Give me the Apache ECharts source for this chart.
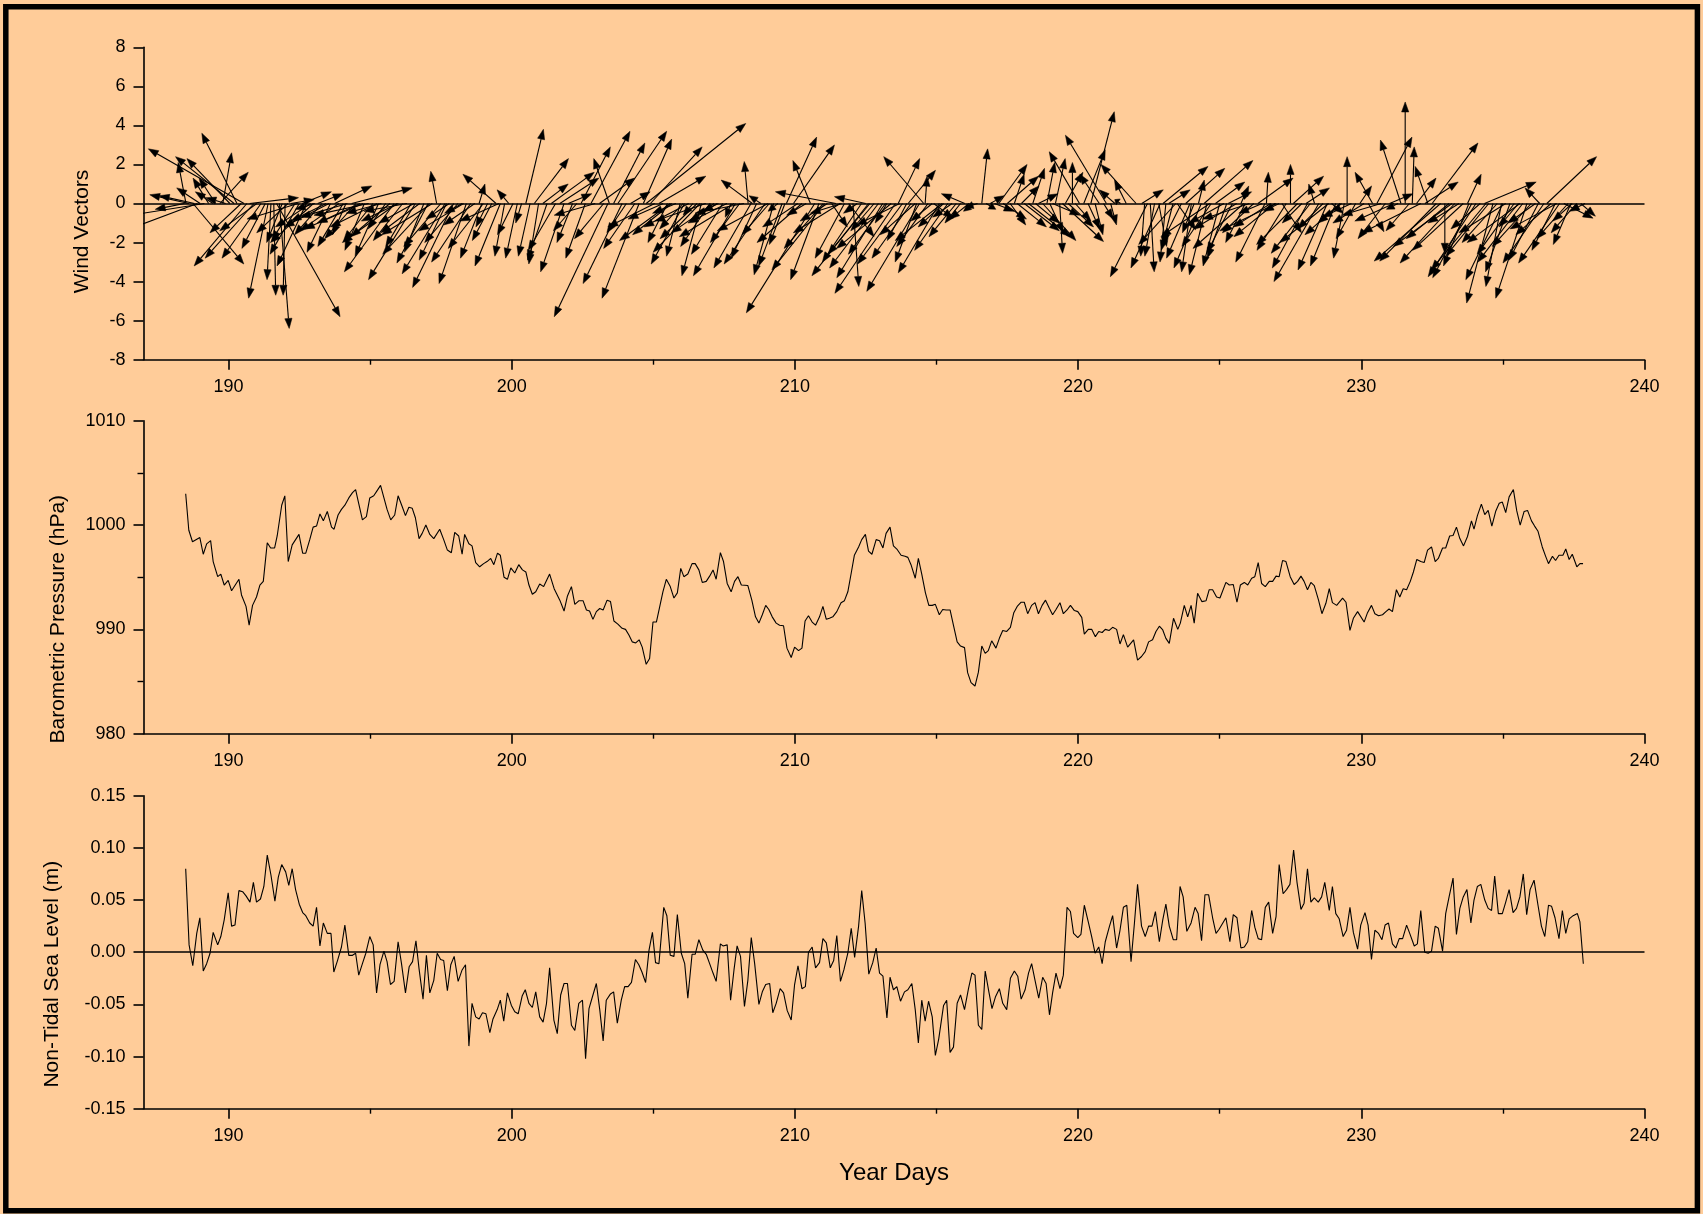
<!DOCTYPE html>
<html>
<head>
<meta charset="utf-8">
<title>Wind, Barometric Pressure and Non-Tidal Sea Level</title>
<script src="https://cdn.jsdelivr.net/npm/echarts@6/dist/echarts.min.js"></script>
<style>
  html, body { margin: 0; padding: 0; background: #ffffff; }
  #chart { width: 1703px; height: 1214px; }
</style>
</head>
<body>
<div id="chart"></div>
<script>
// ---- Tick values for the shared time axis (year days) ----
const dayTicks = [190, 200, 210, 220, 230, 240];
const dayMinorTicks = [195, 205, 215, 225, 235];

// ---- Wind observations: [year day, u (m/s), v (m/s)] ----
const windObs = [
  [188.45,-1.5,-0.3],[188.5,-0.4,2.1],[188.6,-2.0,0.45],[188.75,2.6,-3.1],[188.8,-1.8,0.4],
  [188.9,-4.0,-1.5],[189.0,-1.2,0.8],[189.15,-3.8,-0.6],[189.3,-0.8,1.3],[189.45,-0.9,0.6],
  [189.55,-0.85,1.3],[189.7,1.45,1.6],[189.8,0.45,2.6],[189.9,-1.0,0.3],[190.05,-2.2,2.3],
  [190.2,-3.0,2.4],[190.3,-1.8,3.6],[190.45,-1.6,-1.5],[190.55,-4.9,2.8],[190.65,-2.7,-3.2],
  [190.75,2.5,0.3],[190.9,-2.5,-2.8],[191.0,-1.9,-1.4],[191.15,-2.0,-2.8],[191.3,-1.2,-2.3],
  [191.4,-1.0,-4.85],[191.5,-0.2,-3.9],[191.6,0.1,-4.7],[191.7,3.25,-5.8],[191.8,0.5,-6.4],
  [191.9,-0.8,-2.0],[192.0,-0.1,-4.7],[192.1,-1.6,-1.5],[192.2,1.2,0.2],[192.35,-1.2,-1.9],
  [192.45,-2.6,-0.8],[192.5,-1.5,-2.6],[192.6,1.5,0.6],[192.75,-1.5,-3.2],[192.9,-1.8,-1.2],
  [193.0,-2.2,-2.0],[193.05,-1.0,-0.3],[193.15,1.3,0.5],[193.3,-1.4,-1.6],[193.45,-1.8,-0.9],
  [193.55,-2.3,-1.2],[193.6,-1.2,-2.5],[193.75,1.9,0.9],[193.9,-2.0,-1.4],[194.05,-1.3,-2.2],
  [194.15,-0.7,-1.6],[194.2,-2.4,-0.7],[194.35,3.1,0.8],[194.5,-1.6,-1.8],[194.65,-2.2,-1.0],
  [194.75,-3.0,-1.3],[194.8,-1.0,-2.4],[194.95,-2.8,-0.6],[195.1,-1.5,-1.9],[195.25,-2.4,-1.2],
  [195.3,-1.2,-2.7],[195.4,-1.8,-0.5],[195.55,-0.9,-1.3],[195.7,-2.0,-1.7],[195.85,-2.55,-3.5],
  [195.95,-2.8,-2.0],[196.0,-1.9,-0.9],[196.15,-1.5,-1.9],[196.3,-2.2,-0.4],[196.45,-1.3,-2.2],
  [196.55,-1.8,-1.0],[196.6,-2.4,-3.9],[196.75,-2.0,-1.5],[196.9,-1.0,-2.5],[197.05,-1.6,-3.05],
  [197.1,-2.4,-2.6],[197.2,-2.6,-1.6],[197.35,-0.3,1.65],[197.5,-1.9,-2.2],[197.65,-2.2,-3.6],
  [197.7,-1.4,-2.9],[197.8,-1.2,-0.8],[197.95,-2.1,-4.3],[198.1,-1.7,-2.0],[198.25,-0.9,-0.5],
  [198.3,-2.3,-1.4],[198.4,-1.4,-4.1],[198.55,-2.0,-3.0],[198.7,-1.6,-1.1],[198.85,0.3,1.0],
  [198.95,-1.1,-2.8],[199.0,-1.8,-2.3],[199.15,-0.6,-1.2],[199.3,-1.0,-1.9],[199.45,-1.7,1.5],
  [199.55,-2.0,-0.9],[199.6,-1.3,-3.2],[199.75,-0.5,-2.7],[199.9,-0.6,0.7],[200.05,-0.8,-1.6],
  [200.2,-0.6,-2.8],[200.35,-0.3,-1.0],[200.5,0.9,3.8],[200.65,-0.6,-2.7],[200.8,1.75,2.3],
  [200.95,-0.5,-3.1],[201.1,1.3,1.0],[201.25,-1.0,-2.9],[201.4,2.2,1.6],[201.55,-1.4,-2.4],
  [201.7,2.0,1.3],[201.85,-1.2,-3.5],[202.0,1.2,0.5],[202.15,-0.8,-2.0],[202.3,-1.2,-1.4],
  [202.45,1.5,2.9],[202.6,-1.0,-2.8],[202.8,2.0,3.7],[202.95,-2.1,-0.6],[203.1,1.8,1.3],
  [203.25,-1.5,-1.8],[203.4,-2.75,-5.8],[203.45,-0.8,2.3],[203.6,1.6,3.1],[203.75,2.5,3.7],
  [203.9,-2.0,-4.1],[204.05,-1.0,-1.5],[204.2,1.0,0.6],[204.35,-1.6,-2.3],[204.5,-1.9,-4.85],
  [204.65,1.45,3.3],[204.75,5.1,4.1],[204.9,2.65,2.9],[205.05,-2.4,-1.2],[205.2,2.4,1.4],
  [205.35,-1.8,-0.8],[205.5,-1.0,-2.0],[205.6,-2.6,-1.9],[205.65,-2.0,-1.6],[205.8,-1.2,-0.5],
  [205.95,-0.7,-2.7],[206.05,-1.2,-1.3],[206.1,-1.7,-3.1],[206.25,-2.3,-1.2],[206.4,-0.5,-0.6],
  [206.55,-1.9,-1.8],[206.65,-2.4,-2.5],[206.7,-1.0,-3.7],[206.85,-2.6,-0.9],[207.0,-1.5,-2.2],
  [207.15,-2.2,-1.5],[207.25,-1.4,-0.9],[207.3,-0.8,-0.4],[207.45,-1.6,-2.6],[207.6,-2.0,-1.0],
  [207.75,-0.3,-0.7],[207.85,-2.8,-1.7],[207.9,-2.15,-3.7],[208.05,-1.5,-2.0],[208.2,-2.5,-0.5],
  [208.35,-0.2,2.15],[208.45,-1.9,-3.3],[208.5,-1.6,1.2],[208.65,-1.3,-2.8],[208.8,-0.6,0.4],
  [208.95,-2.1,-3.1],[209.05,-2.6,-1.4],[209.1,-1.4,-1.6],[209.25,-1.0,-3.65],[209.4,-0.5,-0.4],
  [209.55,-1.2,-3.2],[209.65,-0.8,-2.1],[209.7,1.55,3.4],[209.95,2.1,3.0],[210.1,-1.8,-1.2],
  [210.25,-2.3,-2.0],[210.4,-1.0,-0.6],[210.55,-0.9,2.2],[210.7,-3.5,-5.6],[210.85,-1.45,-3.9],
  [211.0,-2.0,-2.3],[211.05,-2.7,-3.4],[211.15,-1.4,-0.9],[211.3,0.8,-1.2],[211.45,-3.1,0.6],
  [211.6,-2.4,-1.5],[211.65,-1.6,-0.5],[211.75,-1.5,-2.8],[211.9,1.3,-1.7],[212.05,0.3,-4.25],
  [212.2,-0.7,-0.5],[212.35,-2.0,-3.0],[212.5,-1.6,0.35],[212.6,-2.9,-3.7],[212.65,-2.15,-2.6],
  [212.8,-1.2,-1.4],[212.95,-2.5,-3.3],[213.1,-2.35,-3.8],[213.2,-1.9,-2.6],[213.25,-0.6,-1.0],
  [213.4,-2.8,-2.3],[213.55,-3.1,-4.6],[213.65,1.1,2.3],[213.7,-2.2,-1.1],[213.8,-2.3,-3.1],
  [213.95,-1.0,-1.9],[214.0,1.4,1.7],[214.1,-2.0,-2.8],[214.25,-1.8,-1.6],[214.3,-1.1,-3.0],
  [214.4,-2.7,-4.5],[214.55,-2.05,2.4],[214.6,0.1,1.4],[214.7,-1.6,-2.2],[214.85,-1.1,-0.9],
  [214.9,1.0,-0.75],[215.1,-2.1,-3.55],[215.2,-2.4,-1.9],[215.25,-1.3,-1.2],[215.4,-1.7,-2.4],
  [215.55,-1.0,-0.7],[215.7,-1.4,-1.7],[215.85,-0.8,-1.0],[216.0,-1.2,0.5],[216.15,-1.0,-0.8],
  [216.3,-0.5,-0.4],[216.45,-0.6,-0.2],[216.6,0.3,2.8],[216.75,0.5,-0.3],[216.9,0.7,0.4],
  [217.05,1.0,-0.4],[217.2,1.45,2.0],[217.35,1.2,-0.8],[217.5,1.6,1.4],[217.6,0.8,-1.1],
  [217.75,0.5,1.5],[217.85,1.5,-1.2],[218.0,0.9,0.9],[218.1,1.8,-1.4],[218.25,2.15,-1.7],
  [218.4,0.6,1.8],[218.5,1.2,-1.0],[218.6,1.0,0.5],[218.75,1.7,-1.9],[218.9,0.4,2.1],
  [219.0,0.7,-1.5],[219.1,1.4,-0.6],[219.2,0.5,2.3],[219.35,0.15,-2.55],[219.45,2.1,-1.95],
  [219.55,0.9,1.6],[219.65,1.3,-1.2],[219.8,0.0,2.1],[219.9,0.8,-0.9],[220.05,-1.55,2.65],
  [220.2,1.1,2.75],[220.35,0.6,-1.3],[220.45,1.2,4.7],[220.6,0.4,-1.6],[220.75,-1.0,1.5],
  [220.9,0.5,-0.8],[221.0,-2.1,3.5],[221.15,0.3,-1.1],[221.3,-0.8,0.7],[221.5,-0.3,0.2],
  [221.7,-0.6,1.2],[222.05,-1.8,2.0],[222.25,1.1,0.7],[222.35,-0.2,-2.7],[222.45,-1.9,-3.75],
  [222.55,0.2,-3.5],[222.7,-0.5,-2.7],[222.85,0.4,-2.2],[222.9,-1.5,-3.3],[223.0,2.3,1.9],
  [223.1,-0.3,-3.0],[223.2,1.1,0.7],[223.35,-0.6,-2.4],[223.45,-1.9,-2.1],[223.5,0.95,-1.35],
  [223.65,-1.0,-2.0],[223.8,2.0,1.8],[223.95,-1.2,-2.8],[224.0,-0.5,-3.5],[224.1,-0.6,-1.5],
  [224.25,0.3,1.2],[224.35,-1.4,-3.3],[224.45,2.5,2.2],[224.55,-0.9,-3.65],[224.65,-2.5,-1.7],
  [224.7,-1.5,-2.2],[224.85,1.5,1.1],[225.0,-0.85,-3.2],[225.15,-1.8,-1.0],[225.25,-1.0,-2.8],
  [225.3,1.2,0.6],[225.45,-1.3,-2.5],[225.6,-2.2,-1.3],[225.75,0.4,0.9],[225.85,-2.6,-2.3],
  [225.9,-1.0,-2.0],[226.05,-2.4,-0.8],[226.2,-1.6,-1.5],[226.35,1.8,1.3],[226.5,-1.2,-0.5],
  [226.6,-1.5,-3.0],[226.65,0.1,1.6],[226.8,-1.9,-1.2],[226.95,-2.1,-1.7],[227.0,-2.9,-1.4],
  [227.1,-0.8,-0.4],[227.2,1.0,-1.5],[227.35,-1.5,-2.4],[227.5,0.0,2.0],[227.6,1.55,1.4],
  [227.75,-2.1,-2.1],[227.9,-1.0,-1.0],[228.05,1.2,0.8],[228.1,-1.8,-3.3],[228.2,-2.0,-2.55],
  [228.35,-0.3,1.0],[228.5,-2.3,-4.0],[228.65,-1.3,-1.3],[228.8,-1.5,-3.4],[228.85,-2.5,-2.0],
  [228.95,0.6,-0.5],[229.1,-1.3,-3.2],[229.25,-1.8,-1.6],[229.3,-1.2,-1.0],[229.4,-0.55,-2.8],
  [229.5,0.0,2.4],[229.65,-1.5,-0.7],[229.8,-1.0,-1.8],[229.95,0.6,0.9],[230.1,-1.6,-1.0],
  [230.25,0.8,-1.45],[230.4,-0.9,1.6],[230.55,1.8,3.4],[230.7,-2.0,-0.6],[230.85,-1.4,-1.8],
  [231.0,1.2,0.5],[231.15,-2.0,-0.9],[231.3,-0.6,-0.3],[231.4,-1.05,3.25],[231.55,0.0,5.2],
  [231.7,-1.2,-1.4],[231.8,0.1,2.9],[231.95,1.0,1.3],[232.1,-3.0,-1.5],[232.25,1.7,1.1],
  [232.35,-0.65,1.9],[232.5,2.35,3.1],[232.65,-2.9,-2.95],[232.8,-3.4,-2.95],[232.95,0.0,-2.55],
  [233.1,-2.2,-1.8],[233.2,-3.0,-2.2],[233.3,-2.8,-3.05],[233.45,-1.6,-1.0],[233.6,-2.6,-2.4],
  [233.75,0.7,1.5],[233.8,-1.3,-3.2],[233.9,-2.0,-3.8],[234.05,-2.45,-3.75],[234.2,-1.5,-1.3],
  [234.35,2.65,1.1],[234.4,-2.8,-3.4],[234.5,-2.2,-2.7],[234.65,-1.35,-5.1],[234.8,-1.8,-2.0],
  [234.95,-0.8,-4.25],[235.0,-1.9,-3.9],[235.1,-2.4,-1.5],[235.25,-1.25,-3.5],[235.4,-1.9,-2.6],
  [235.55,-1.0,-1.2],[235.6,-2.7,-2.0],[235.7,-2.3,-3.0],[235.85,-1.6,-4.85],[236.0,-2.0,-2.2],
  [236.15,-1.4,-1.0],[236.25,-1.5,-2.9],[236.3,-0.75,0.8],[236.45,-2.1,-3.05],[236.55,2.55,2.4],
  [236.7,-1.8,-1.6],[236.85,-1.2,-2.4],[236.9,-2.4,-1.3],[237.0,-2.1,-3.05],[237.15,1.5,-0.75],
  [237.3,-1.6,-1.8],[237.4,-0.9,-2.1],[237.45,-1.0,-0.9],[237.6,-1.3,-1.5],[237.75,0.75,-0.65],
  [237.9,-0.8,-0.4]
];

// ---- Barometric pressure: [year day, hPa] ----
const pressure = [
  [188.49,1003.0],[188.6,999.5],[188.73,998.4],[188.99,998.8],[189.11,997.2],[189.23,998.2],
  [189.37,998.5],[189.46,996.5],[189.62,995.05],[189.73,995.3],[189.85,994.25],[189.99,994.7],
  [190.11,993.7],[190.37,994.8],[190.46,993.3],[190.62,992.2],[190.73,990.4],[190.85,992.3],
  [190.99,993.1],[191.11,994.25],[191.23,994.6],[191.37,998.3],[191.49,997.8],[191.63,997.8],
  [191.72,998.95],[191.88,1001.9],[191.99,1002.8],[192.11,996.5],[192.25,998.1],[192.49,999.1],
  [192.62,997.3],[192.73,997.3],[192.87,998.6],[192.99,999.8],[193.11,999.9],[193.23,1001.06],
  [193.35,1000.4],[193.49,1001.3],[193.64,999.8],[193.73,999.6],[193.87,1000.96],[193.99,1001.5],
  [194.11,1001.9],[194.25,1002.6],[194.38,1003.1],[194.49,1003.4],[194.58,1002.3],[194.73,1000.5],
  [194.87,1000.8],[194.99,1002.6],[195.13,1002.8],[195.25,1003.3],[195.37,1003.8],[195.49,1002.6],
  [195.6,1001.5],[195.73,1000.5],[195.87,1000.96],[195.99,1002.8],[196.13,1001.8],[196.25,1000.9],
  [196.37,1001.7],[196.49,1001.6],[196.6,1000.7],[196.73,998.7],[196.84,999.2],[196.97,1000.0],
  [197.11,999.1],[197.25,998.7],[197.46,999.6],[197.6,998.6],[197.73,997.6],[197.87,997.35],
  [197.99,999.3],[198.13,998.95],[198.25,997.2],[198.34,999.1],[198.49,998.2],[198.6,998.0],
  [198.73,996.4],[198.87,996.0],[199.01,996.3],[199.13,996.5],[199.26,996.8],[199.37,996.2],
  [199.5,997.3],[199.6,997.1],[199.73,995.0],[199.85,994.8],[199.97,995.9],[200.11,995.4],
  [200.25,996.2],[200.38,995.7],[200.5,995.5],[200.61,994.25],[200.73,993.36],[200.85,993.6],
  [200.99,994.35],[201.13,994.1],[201.34,995.3],[201.5,993.9],[201.7,992.8],[201.85,991.76],
  [201.97,993.2],[202.11,994.1],[202.23,992.4],[202.38,992.75],[202.52,992.75],[202.64,991.86],
  [202.75,991.76],[202.87,990.96],[202.99,991.7],[203.11,992.0],[203.23,991.86],[203.37,992.8],
  [203.49,992.66],[203.61,990.8],[203.75,990.5],[203.9,990.1],[204.02,990.0],[204.14,989.46],
  [204.26,988.8],[204.38,988.7],[204.5,989.0],[204.61,988.3],[204.75,986.65],[204.87,987.2],
  [204.99,990.7],[205.11,990.7],[205.23,992.2],[205.34,993.6],[205.46,994.8],[205.6,994.1],
  [205.73,993.0],[205.85,993.5],[205.97,995.85],[206.08,995.05],[206.22,995.3],[206.37,996.3],
  [206.48,996.3],[206.61,995.7],[206.73,994.5],[206.87,994.6],[206.99,995.1],[207.11,995.7],
  [207.22,994.8],[207.37,997.35],[207.48,996.5],[207.61,994.4],[207.75,993.6],[207.87,994.6],
  [207.99,995.05],[208.11,994.25],[208.34,994.2],[208.48,992.8],[208.61,991.2],[208.73,990.6],
  [208.85,991.4],[208.97,992.3],[209.08,991.9],[209.2,991.2],[209.34,990.6],[209.46,990.4],
  [209.6,990.35],[209.72,988.2],[209.87,987.3],[209.99,988.3],[210.13,987.96],[210.25,988.2],
  [210.36,990.8],[210.48,991.3],[210.61,990.7],[210.73,990.4],[210.87,991.2],[210.99,992.2],
  [211.11,990.96],[211.22,991.06],[211.34,991.2],[211.48,991.7],[211.63,992.56],[211.75,992.75],
  [211.87,993.6],[211.99,995.4],[212.1,997.1],[212.25,997.9],[212.36,998.6],[212.49,999.1],
  [212.6,997.5],[212.72,997.2],[212.87,998.6],[212.99,998.5],[213.11,997.8],[213.22,999.2],
  [213.36,999.8],[213.48,998.0],[213.6,997.7],[213.75,997.1],[213.89,997.0],[213.99,996.9],
  [214.1,996.2],[214.25,994.9],[214.36,996.8],[214.48,995.3],[214.61,993.5],[214.73,992.3],
  [214.85,992.3],[214.96,992.4],[215.1,991.4],[215.22,991.9],[215.34,991.86],[215.48,991.86],
  [215.61,990.26],[215.73,988.8],[215.85,988.4],[215.99,988.25],[216.1,985.85],[216.22,984.9],
  [216.36,984.57],[216.48,985.9],[216.6,988.4],[216.72,987.7],[216.83,987.96],[216.95,988.9],
  [217.1,988.2],[217.22,989.14],[217.34,989.9],[217.48,989.8],[217.61,990.2],[217.73,991.6],
  [217.85,992.2],[217.99,992.6],[218.1,992.6],[218.22,991.5],[218.36,992.3],[218.48,992.56],
  [218.6,991.5],[218.73,992.3],[218.85,992.8],[218.99,992.0],[219.1,991.4],[219.22,991.9],
  [219.36,992.56],[219.48,991.5],[219.61,991.86],[219.73,992.3],[219.87,991.8],[219.99,991.7],
  [220.13,991.15],[220.22,989.55],[220.36,990.0],[220.48,990.0],[220.61,989.3],[220.73,989.8],
  [220.85,989.7],[220.96,990.0],[221.1,989.9],[221.22,990.2],[221.36,990.0],[221.48,988.6],
  [221.6,989.5],[221.75,988.3],[221.96,989.0],[222.1,987.06],[222.24,987.4],[222.37,987.86],
  [222.49,988.8],[222.63,989.0],[222.75,989.8],[222.87,990.3],[222.99,989.94],[223.1,989.14],
  [223.22,988.66],[223.37,991.06],[223.52,990.0],[223.61,990.6],[223.75,992.3],[223.87,991.2],
  [223.99,992.3],[224.1,990.6],[224.22,993.45],[224.37,992.66],[224.52,992.75],[224.63,993.8],
  [224.75,993.8],[224.89,993.1],[225.01,993.0],[225.22,994.5],[225.34,994.25],[225.48,994.3],
  [225.61,992.6],[225.73,994.25],[225.87,994.5],[225.99,994.25],[226.13,994.9],[226.24,995.05],
  [226.36,996.4],[226.48,994.4],[226.61,994.1],[226.75,994.6],[226.87,994.6],[226.99,995.1],
  [227.1,995.05],[227.22,996.6],[227.34,996.5],[227.49,995.05],[227.63,994.3],[227.75,994.6],
  [227.87,995.1],[227.98,994.6],[228.1,993.8],[228.22,994.5],[228.34,994.2],[228.49,992.8],
  [228.61,991.5],[228.75,992.5],[228.87,993.9],[228.98,992.56],[229.13,992.3],[229.34,993.0],
  [229.46,992.6],[229.6,989.9],[229.72,991.06],[229.87,991.7],[230.1,990.7],[230.22,991.6],
  [230.36,992.3],[230.48,991.5],[230.61,991.3],[230.75,991.4],[230.87,991.7],[230.98,991.95],
  [231.1,991.7],[231.24,993.8],[231.36,993.1],[231.48,993.9],[231.6,993.8],[231.73,994.6],
  [231.84,995.5],[231.96,996.7],[232.1,996.5],[232.22,996.4],[232.34,997.6],[232.48,997.9],
  [232.61,996.5],[232.72,996.8],[232.87,997.8],[232.98,997.8],[233.12,998.95],[233.24,999.0],
  [233.36,999.8],[233.48,998.7],[233.61,998.0],[233.75,998.9],[233.89,1000.4],[233.98,999.6],
  [234.1,1000.9],[234.24,1002.0],[234.36,1001.0],[234.48,1001.4],[234.61,999.9],[234.75,1001.35],
  [234.87,1002.08],[234.98,1002.2],[235.1,1001.2],[235.22,1002.7],[235.37,1003.4],[235.49,1001.35],
  [235.61,1000.0],[235.75,1001.3],[235.87,1001.4],[236.01,1000.4],[236.12,999.9],[236.24,999.4],
  [236.39,997.9],[236.51,997.0],[236.61,996.3],[236.75,997.0],[236.86,996.6],[236.98,997.1],
  [237.12,997.1],[237.22,997.7],[237.34,996.7],[237.45,997.2],[237.61,996.0],[237.72,996.3],
  [237.83,996.3]
];

// ---- Non-tidal sea level residual: [year day, m] ----
const seaLevel = [
  [188.49,0.080],[188.61,0.007],[188.74,-0.013],[188.88,0.018],[188.99,0.033],[189.11,-0.018],
  [189.23,-0.011],[189.35,-0.001],[189.46,0.019],[189.62,0.007],[189.73,0.015],[189.85,0.031],
  [189.99,0.057],[190.11,0.025],[190.23,0.026],[190.37,0.059],[190.5,0.058],[190.62,0.054],
  [190.76,0.048],[190.88,0.067],[190.99,0.048],[191.13,0.051],[191.25,0.063],[191.37,0.093],
  [191.5,0.074],[191.64,0.049],[191.76,0.072],[191.88,0.084],[192.02,0.077],[192.13,0.064],
  [192.25,0.080],[192.37,0.060],[192.5,0.046],[192.62,0.038],[192.73,0.035],[192.87,0.028],
  [192.99,0.025],[193.11,0.043],[193.23,0.006],[193.35,0.028],[193.49,0.018],[193.62,0.018],
  [193.72,-0.019],[193.85,-0.008],[193.99,0.005],[194.11,0.026],[194.25,-0.003],[194.38,-0.003],
  [194.49,-0.001],[194.6,-0.022],[194.73,-0.011],[194.85,-0.001],[194.99,0.015],[195.11,0.007],
  [195.23,-0.039],[195.35,-0.012],[195.49,0.001],[195.6,-0.009],[195.72,-0.031],[195.85,-0.028],
  [195.99,0.010],[196.11,-0.011],[196.25,-0.039],[196.38,-0.014],[196.5,-0.009],[196.62,0.011],
  [196.73,-0.016],[196.87,-0.045],[196.99,-0.003],[197.11,-0.039],[197.25,-0.027],[197.37,-0.001],
  [197.49,-0.007],[197.6,-0.008],[197.73,-0.037],[197.85,-0.012],[197.97,-0.004],[198.11,-0.028],
  [198.25,-0.017],[198.37,-0.012],[198.49,-0.090],[198.6,-0.049],[198.73,-0.062],[198.85,-0.064],
  [198.97,-0.058],[199.09,-0.059],[199.23,-0.077],[199.34,-0.064],[199.49,-0.055],[199.6,-0.046],
  [199.72,-0.066],[199.85,-0.039],[199.99,-0.051],[200.11,-0.057],[200.23,-0.059],[200.37,-0.042],
  [200.48,-0.036],[200.61,-0.049],[200.73,-0.053],[200.85,-0.038],[200.99,-0.062],[201.11,-0.067],
  [201.23,-0.049],[201.34,-0.015],[201.49,-0.065],[201.61,-0.078],[201.73,-0.041],[201.85,-0.030],
  [201.97,-0.030],[202.11,-0.070],[202.23,-0.075],[202.37,-0.049],[202.5,-0.046],[202.61,-0.102],
  [202.73,-0.054],[202.87,-0.041],[202.99,-0.030],[203.11,-0.055],[203.23,-0.085],[203.34,-0.046],
  [203.49,-0.040],[203.6,-0.038],[203.73,-0.068],[203.87,-0.046],[203.99,-0.033],[204.11,-0.033],
  [204.23,-0.029],[204.37,-0.007],[204.49,-0.012],[204.6,-0.019],[204.73,-0.029],[204.85,0.002],
  [204.97,0.019],[205.08,-0.010],[205.2,-0.011],[205.37,0.043],[205.48,0.035],[205.6,-0.003],
  [205.73,-0.004],[205.85,0.036],[205.99,-0.001],[206.11,-0.011],[206.22,-0.044],[206.37,-0.002],
  [206.48,-0.002],[206.61,0.012],[206.75,0.002],[206.87,-0.002],[206.99,-0.011],[207.11,-0.020],
  [207.22,-0.028],[207.37,0.008],[207.46,0.006],[207.61,0.007],[207.73,-0.046],[207.85,-0.017],
  [207.96,0.006],[208.08,-0.004],[208.22,-0.052],[208.34,-0.027],[208.46,0.014],[208.58,-0.011],
  [208.73,-0.050],[208.85,-0.038],[208.97,-0.031],[209.11,-0.030],[209.22,-0.058],[209.34,-0.049],
  [209.48,-0.035],[209.6,-0.039],[209.73,-0.056],[209.87,-0.065],[209.99,-0.031],[210.11,-0.013],
  [210.25,-0.035],[210.37,-0.033],[210.48,0.000],[210.61,0.005],[210.73,-0.015],[210.87,-0.010],
  [210.99,0.013],[211.11,0.009],[211.25,-0.015],[211.37,-0.008],[211.48,0.016],[211.61,-0.028],
  [211.73,-0.017],[211.87,-0.001],[211.99,0.023],[212.11,-0.005],[212.25,0.025],[212.36,0.059],
  [212.48,0.028],[212.61,-0.021],[212.75,-0.010],[212.87,0.004],[212.99,-0.020],[213.11,-0.023],
  [213.25,-0.063],[213.36,-0.024],[213.48,-0.036],[213.6,-0.033],[213.73,-0.047],[213.87,-0.038],
  [213.99,-0.036],[214.13,-0.030],[214.25,-0.055],[214.36,-0.087],[214.48,-0.046],[214.6,-0.066],
  [214.72,-0.047],[214.85,-0.062],[214.96,-0.099],[215.08,-0.083],[215.25,-0.051],[215.36,-0.046],
  [215.48,-0.096],[215.6,-0.091],[215.73,-0.049],[215.85,-0.041],[215.99,-0.055],[216.13,-0.035],
  [216.25,-0.020],[216.36,-0.022],[216.48,-0.070],[216.6,-0.074],[216.72,-0.018],[216.85,-0.038],
  [216.96,-0.054],[217.08,-0.043],[217.22,-0.035],[217.34,-0.049],[217.48,-0.055],[217.61,-0.025],
  [217.75,-0.018],[217.87,-0.023],[217.99,-0.045],[218.13,-0.036],[218.25,-0.020],[218.36,-0.011],
  [218.48,-0.027],[218.61,-0.044],[218.75,-0.024],[218.87,-0.030],[218.99,-0.060],[219.1,-0.039],
  [219.22,-0.020],[219.36,-0.035],[219.48,-0.022],[219.61,0.043],[219.73,0.039],[219.84,0.018],
  [219.99,0.014],[220.1,0.017],[220.22,0.045],[220.36,0.029],[220.48,0.015],[220.6,-0.001],
  [220.73,0.005],[220.85,-0.011],[220.96,0.010],[221.1,0.024],[221.22,0.035],[221.36,0.004],
  [221.48,0.021],[221.6,0.043],[221.72,0.045],[221.87,-0.009],[221.99,0.028],[222.1,0.065],
  [222.24,0.025],[222.37,0.015],[222.49,0.025],[222.61,0.025],[222.73,0.039],[222.87,0.010],
  [222.99,0.031],[223.1,0.046],[223.22,0.025],[223.36,0.012],[223.48,0.012],[223.6,0.063],
  [223.71,0.053],[223.84,0.020],[223.99,0.028],[224.13,0.043],[224.24,0.037],[224.36,0.011],
  [224.48,0.055],[224.61,0.055],[224.75,0.033],[224.87,0.018],[224.98,0.022],[225.22,0.033],
  [225.36,0.010],[225.48,0.036],[225.61,0.033],[225.75,0.004],[225.87,0.005],[225.99,0.010],
  [226.13,0.040],[226.24,0.024],[226.36,0.013],[226.48,0.012],[226.61,0.043],[226.73,0.048],
  [226.87,0.018],[226.99,0.034],[227.1,0.084],[227.24,0.056],[227.36,0.060],[227.48,0.065],
  [227.61,0.098],[227.73,0.067],[227.87,0.041],[227.98,0.047],[228.1,0.080],[228.22,0.048],
  [228.34,0.052],[228.48,0.048],[228.6,0.053],[228.71,0.067],[228.87,0.040],[228.98,0.063],
  [229.1,0.037],[229.22,0.032],[229.36,0.015],[229.48,0.021],[229.6,0.043],[229.72,0.019],
  [229.87,0.003],[229.98,0.026],[230.13,0.038],[230.24,0.026],[230.36,-0.007],[230.48,0.021],
  [230.61,0.018],[230.73,0.012],[230.84,0.026],[230.96,0.028],[231.1,0.008],[231.22,0.004],
  [231.34,0.013],[231.46,0.013],[231.6,0.026],[231.71,0.018],[231.87,0.006],[231.98,0.008],
  [232.1,0.040],[232.24,0.000],[232.36,-0.001],[232.48,0.001],[232.61,0.025],[232.72,0.023],
  [232.87,0.001],[232.98,0.037],[233.1,0.053],[233.24,0.071],[233.36,0.017],[233.48,0.042],
  [233.6,0.053],[233.73,0.060],[233.87,0.028],[233.98,0.050],[234.1,0.063],[234.22,0.065],
  [234.36,0.050],[234.48,0.042],[234.6,0.040],[234.71,0.073],[234.84,0.037],[234.98,0.037],
  [235.1,0.048],[235.22,0.060],[235.36,0.038],[235.48,0.042],[235.6,0.053],[235.72,0.075],
  [235.84,0.036],[235.96,0.060],[236.1,0.069],[236.24,0.045],[236.36,0.025],[236.48,0.015],
  [236.61,0.045],[236.72,0.044],[236.84,0.033],[236.98,0.013],[237.1,0.040],[237.22,0.018],
  [237.34,0.032],[237.48,0.035],[237.63,0.037],[237.72,0.029],[237.84,-0.011]
];

// ---- Layout / style ----
const FONT = "'Liberation Sans', Arial, Helvetica, sans-serif";
const INK = '#000000';
const PAPER = '#FFCC99';
const GRID_LEFT = 143.5, GRID_RIGHT = 58.5;
const panels = [
  { top: 47.3, height: 312.4 },
  { top: 420.7, height: 313.0 },
  { top: 795.7, height: 313.0 }
];

const axisLineStyle = { lineStyle: { color: INK, width: 1.6 } };
const tickLabelStyle = { color: INK, fontSize: 18, fontFamily: FONT };

function majorDayAxis(gridIndex, extra) {
  return Object.assign({
    type: 'value', gridIndex: gridIndex, position: 'bottom',
    min: 187, max: 240,
    axisLine: Object.assign({ show: true, onZero: false }, axisLineStyle),
    axisTick: { show: true, inside: false, length: 10, customValues: dayTicks,
                lineStyle: { color: INK, width: 1.6 } },
    axisLabel: Object.assign({ show: true, margin: 18, customValues: dayTicks }, tickLabelStyle),
    splitLine: { show: false }
  }, extra || {});
}
function minorDayAxis(gridIndex) {
  return {
    type: 'value', gridIndex: gridIndex, position: 'bottom',
    min: 187, max: 240,
    axisLine: { show: false, onZero: false },
    axisTick: { show: true, inside: false, length: 5, customValues: dayMinorTicks,
                lineStyle: { color: INK, width: 1.4 } },
    axisLabel: { show: false },
    splitLine: { show: false }
  };
}

// Rotated axis title, shifted down along the axis by `shift` pixels
function axisTitleStyle(shift) {
  return { color: INK, fontSize: 21, fontFamily: FONT, padding: [0, shift * 2, 0, 0] };
}

// Wind stick: arrow from (day, 0) with components drawn at a common pixel scale
function renderWindArrow(params, api) {
  const t = api.value(0), u = api.value(1), v = api.value(2);
  const p0 = api.coord([t, 0]);
  const unit = Math.abs(api.size([0, 1])[1]);
  const dx = u * unit, dy = -v * unit;
  const len = Math.sqrt(dx * dx + dy * dy);
  if (len < 0.5) return null;
  const ux = dx / len, uy = dy / len;
  const hl = Math.min(10, len * 0.6), hw = 3.6;
  const tip = [p0[0] + dx, p0[1] + dy];
  const base = [tip[0] - ux * hl, tip[1] - uy * hl];
  return {
    type: 'group',
    children: [
      { type: 'line', shape: { x1: p0[0], y1: p0[1], x2: base[0], y2: base[1] },
        style: { stroke: INK, lineWidth: 1.1 } },
      { type: 'polygon',
        shape: { points: [tip, [base[0] - uy * hw, base[1] + ux * hw], [base[0] + uy * hw, base[1] - ux * hw]] },
        style: { fill: INK, stroke: INK, lineWidth: 0.5 } }
    ]
  };
}

const zeroMarkLine = {
  silent: true, symbol: ['none', 'none'],
  label: { show: false },
  lineStyle: { color: INK, width: 1.6, type: 'solid' },
  data: [{ yAxis: 0 }]
};

const option = {
  backgroundColor: PAPER,
  animation: false,
  textStyle: { fontFamily: FONT },
  grid: panels.map(p => ({ left: GRID_LEFT, right: GRID_RIGHT, top: p.top, height: p.height, containLabel: false })),
  xAxis: [
    majorDayAxis(0), minorDayAxis(0),
    majorDayAxis(1), minorDayAxis(1),
    majorDayAxis(2, {
      name: 'Year Days', nameLocation: 'middle', nameGap: 53,
      nameTextStyle: { color: INK, fontSize: 24, fontFamily: FONT }
    }),
    minorDayAxis(2)
  ],
  yAxis: [
    {
      type: 'value', gridIndex: 0, min: -8, max: 8, interval: 2,
      name: 'Wind Vectors', nameLocation: 'middle', nameGap: 51,
      nameTextStyle: axisTitleStyle(28),
      axisLine: Object.assign({ show: true, onZero: false }, axisLineStyle),
      axisTick: { show: true, length: 10, lineStyle: { color: INK, width: 1.6 } },
      axisLabel: Object.assign({ margin: 18 }, tickLabelStyle),
      splitLine: { show: false }
    },
    {
      type: 'value', gridIndex: 1, min: 980, max: 1010, interval: 10,
      name: 'Barometric Pressure (hPa)', nameLocation: 'middle', nameGap: 75,
      nameTextStyle: axisTitleStyle(42),
      axisLine: Object.assign({ show: true, onZero: false }, axisLineStyle),
      axisTick: { show: true, length: 10, lineStyle: { color: INK, width: 1.6 } },
      minorTick: { show: true, splitNumber: 2, length: 6, lineStyle: { color: INK, width: 1.4 } },
      axisLabel: Object.assign({ margin: 18, formatter: function (val) { return String(val); } }, tickLabelStyle),
      splitLine: { show: false }, minorSplitLine: { show: false }
    },
    {
      type: 'value', gridIndex: 2, min: -0.15, max: 0.15, interval: 0.05,
      name: 'Non-Tidal Sea Level (m)', nameLocation: 'middle', nameGap: 81,
      nameTextStyle: axisTitleStyle(22),
      axisLine: Object.assign({ show: true, onZero: false }, axisLineStyle),
      axisTick: { show: true, length: 10, lineStyle: { color: INK, width: 1.6 } },
      axisLabel: Object.assign({
        margin: 18,
        formatter: function (val) {
          const r = Math.round(val * 100) / 100;
          return (Math.abs(r) < 1e-9 ? 0 : r).toFixed(2);
        }
      }, tickLabelStyle),
      splitLine: { show: false }
    }
  ],
  series: [
    {
      name: 'Wind Vectors', type: 'custom', xAxisIndex: 0, yAxisIndex: 0,
      clip: true, silent: true,
      renderItem: renderWindArrow,
      encode: { x: 0, y: 2 },
      data: windObs,
      markLine: zeroMarkLine,
      z: 3
    },
    {
      name: 'Barometric Pressure', type: 'line', xAxisIndex: 2, yAxisIndex: 1,
      data: pressure, showSymbol: false, symbol: 'none', silent: true,
      lineStyle: { color: INK, width: 1.1 }
    },
    {
      name: 'Non-Tidal Sea Level', type: 'line', xAxisIndex: 4, yAxisIndex: 2,
      data: seaLevel, showSymbol: false, symbol: 'none', silent: true,
      lineStyle: { color: INK, width: 1.1 },
      markLine: zeroMarkLine
    }
  ],
  graphic: [
    {
      type: 'rect', silent: true, z: 100,
      shape: { x: 5.8, y: 6.8, width: 1691.6, height: 1204.0 },
      style: { fill: null, stroke: INK, lineWidth: 5.5 }
    }
  ]
};

const chart = echarts.init(document.getElementById('chart'), null, { renderer: 'canvas' });
chart.setOption(option);
</script>
</body>
</html>
